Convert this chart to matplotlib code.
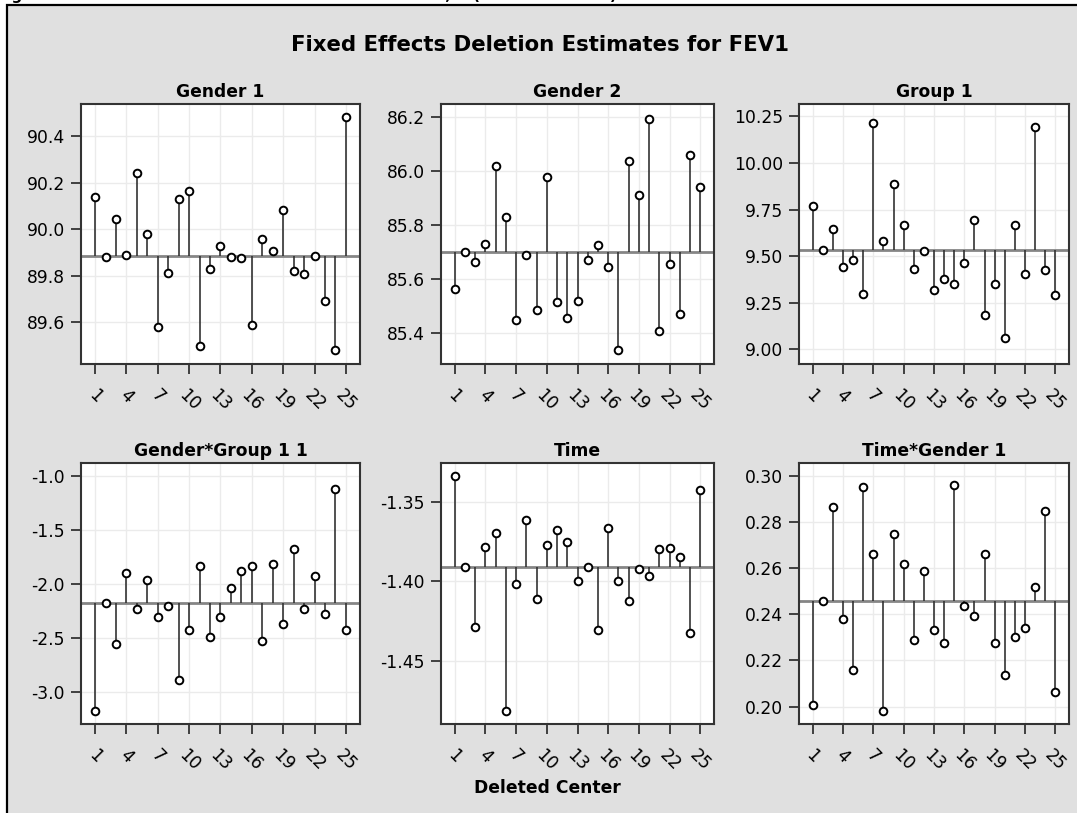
import matplotlib
matplotlib.use("Agg")
import matplotlib.pyplot as plt
from matplotlib.patches import Rectangle
from matplotlib.ticker import FixedLocator, FormatStrFormatter
import numpy as np

plt.rcParams['font.family'] = ['DejaVu Sans']
plt.rcParams['axes.unicode_minus'] = False

centers = list(range(1, 26))
x_ticks = [1, 4, 7, 10, 13, 16, 19, 22, 25]

panel_titles = ["Gender 1", "Gender 2", "Group 1",
                "Gender*Group 1 1", "Time", "Time*Gender 1"]

full_estimates = [89.883, 85.698, 9.531, -2.173, -1.3909, 0.2458]

gender1 = [90.139, 89.881, 90.044, 89.889, 90.240, 89.980, 89.580, 89.811, 90.129,
           90.164, 89.500, 89.830, 89.926, 89.881, 89.876, 89.590, 89.957, 89.904,
           90.084, 89.819, 89.807, 89.884, 89.693, 89.479, 90.481]
gender2 = [85.561, 85.700, 85.662, 85.729, 86.017, 85.830, 85.447, 85.687, 85.483,
           85.977, 85.514, 85.456, 85.519, 85.671, 85.724, 85.642, 85.335, 86.037,
           85.910, 86.190, 85.407, 85.653, 85.468, 86.058, 85.938]
group1 = [9.772, 9.531, 9.645, 9.444, 9.478, 9.299, 10.214, 9.579, 9.888,
          9.667, 9.431, 9.526, 9.317, 9.376, 9.353, 9.465, 9.695, 9.182,
          9.353, 9.058, 9.667, 9.404, 10.193, 9.426, 9.290]
gender_group = [-3.175, -2.176, -2.560, -1.901, -2.232, -1.963, -2.303, -2.204, -2.890,
                -2.427, -1.836, -2.488, -2.309, -2.040, -1.883, -1.836, -2.529, -1.818,
                -2.371, -1.679, -2.232, -1.932, -2.275, -1.119, -2.427]
time_est = [-1.3333, -1.3911, -1.4285, -1.3785, -1.3694, -1.4816, -1.4017, -1.3614, -1.4108,
            -1.3770, -1.3673, -1.3753, -1.4000, -1.3911, -1.4306, -1.3662, -1.3994, -1.4122,
            -1.3924, -1.3968, -1.3795, -1.3791, -1.3848, -1.4323, -1.3420]
time_gender = [0.2008, 0.2458, 0.2864, 0.2380, 0.2159, 0.2949, 0.2662, 0.1982, 0.2747,
               0.2618, 0.2287, 0.2589, 0.2332, 0.2277, 0.2961, 0.2435, 0.2391, 0.2662,
               0.2277, 0.2137, 0.2303, 0.2342, 0.2520, 0.2847, 0.2063]

series = [gender1, gender2, group1, gender_group, time_est, time_gender]

y_limits = [(89.421, 90.537), (85.284, 86.247), (8.921, 10.317),
            (-3.298, -0.881), (-1.4901, -1.3251), (0.1925, 0.3055)]
y_ticks = [[89.6, 89.8, 90.0, 90.2, 90.4],
           [85.4, 85.6, 85.8, 86.0, 86.2],
           [9.00, 9.25, 9.50, 9.75, 10.00, 10.25],
           [-3.0, -2.5, -2.0, -1.5, -1.0],
           [-1.45, -1.40, -1.35],
           [0.20, 0.22, 0.24, 0.26, 0.28, 0.30]]
y_formats = ['%.1f', '%.1f', '%.2f', '%.1f', '%.2f', '%.2f']

W, H = 1077, 813
fig = plt.figure(figsize=(W / 100, H / 100), dpi=100)
fig.patch.set_facecolor('white')

# gray outer panel
fig.patches.append(Rectangle((7 / W, -0.05), 1.1, (H - 5) / H + 0.05,
                             transform=fig.transFigure, facecolor='#e0e0e0',
                             edgecolor='black', lw=1.6, zorder=-10))

fig.text(-4 / W, 1.0, "Figure 59.14 Fixed Effects Deletion Estimates Model, A (Deleted Center)",
         fontsize=11, fontweight='bold', ha='left', va='baseline')

fig.text(540 / W, 1 - 45 / H, "Fixed Effects Deletion Estimates for FEV1",
         fontsize=15.3, fontweight='bold', ha='center', va='center')

col_lr = [(81, 360), (441, 714), (799, 1069)]
row_tb = [(104, 364), (463, 724)]

for i in range(6):
    r, c = divmod(i, 3)
    l, rr = col_lr[c]
    t, b = row_tb[r]
    ax = fig.add_axes([l / W, 1 - b / H, (rr - l) / W, (b - t) / H])
    ax.set_facecolor('white')
    vals = series[i]
    base = full_estimates[i]
    ax.set_xlim(-0.35, 26.35)
    ax.set_ylim(*y_limits[i])
    ax.grid(True, color='#ebebeb', lw=1.0, zorder=0)
    ax.set_axisbelow(True)
    ax.axhline(base, color='#858585', lw=2.0, zorder=2)
    ax.vlines(centers, base, vals, color='#333333', lw=1.2, zorder=3)
    ax.plot(centers, vals, 'o', mfc='white', mec='black', ms=5.5, mew=1.4, zorder=4)
    ax.xaxis.set_major_locator(FixedLocator(x_ticks))
    ax.yaxis.set_major_locator(FixedLocator(y_ticks[i]))
    ax.yaxis.set_major_formatter(FormatStrFormatter(y_formats[i]))
    ax.set_xticklabels([str(v) for v in x_ticks], rotation=-45, ha='center', va='top')
    ax.tick_params(direction='out', length=7, width=1.3, color='#333333',
                   labelsize=12.3, labelcolor='black')
    ax.tick_params(axis='x', pad=9)
    ax.tick_params(axis='y', pad=4.5)
    for s in ax.spines.values():
        s.set_color('#333333')
        s.set_linewidth(1.5)
    ax.set_title(panel_titles[i], fontsize=12.3, fontweight='bold', pad=5)

fig.text(547 / W, 1 - 788 / H, "Deleted Center", fontsize=12.3, fontweight='bold',
         ha='center', va='center')

fig.savefig("out.png", dpi=100)
